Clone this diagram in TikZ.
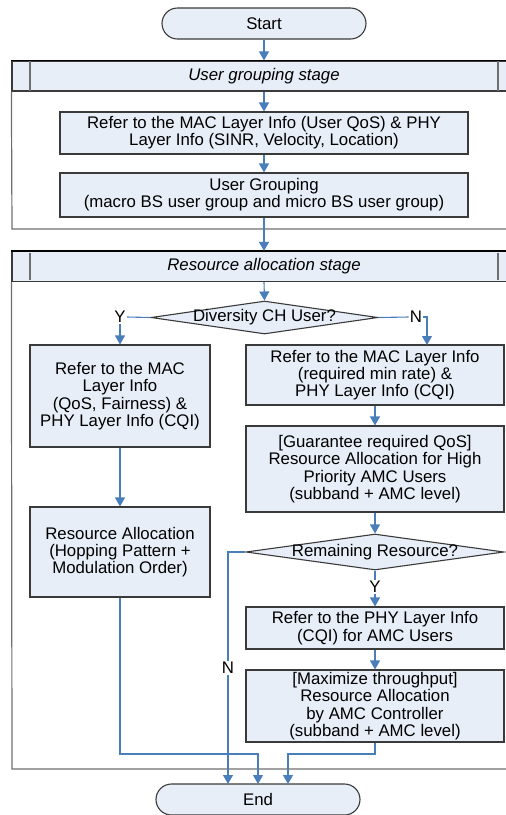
\documentclass[tikz,border=0pt]{standalone}
\usepackage{fontspec}
\setmainfont{Liberation Sans}
\usetikzlibrary{arrows.meta,shapes.geometric,calc}
\definecolor{boxfill}{HTML}{E8EEF7}
\definecolor{boxline}{HTML}{3A3A3A}
\definecolor{flow}{HTML}{4A7EBB}
\definecolor{sepgray}{HTML}{6E6E6E}
\tikzset{
  txt/.style={font=\fontsize{16.8}{17.3}\selectfont},
  procbox/.style={txt, draw=boxline, fill=boxfill, line width=1.1pt, align=center, inner sep=0pt},
  terminal/.style={procbox, rounded corners=15.5pt, minimum width=204pt, minimum height=31pt},
  decision/.style={diamond, draw=boxline, fill=boxfill, line width=1.1pt, inner sep=0pt},
  lanehead/.style={txt, draw=boxline, fill=boxfill, line width=1.2pt, inner sep=0pt,
     minimum width=504pt, minimum height=30pt, font=\fontsize{16.8}{17.3}\selectfont\itshape},
  laneedge/.style={draw=sepgray, line width=1.2pt},
  lanesep/.style={draw=sepgray, line width=2pt},
  conn/.style={draw=flow, line width=1.1pt},
  arr/.style={conn, -{Triangle[width=10pt,length=9pt]}},
  lbl/.style={txt, inner sep=1pt, fill=white},
}
\begin{document}
\begin{tikzpicture}[x=1pt,y=-1pt]
\useasboundingbox (0,0) rectangle (506,815);

% lanes
\node[lanehead] (lane1) at (264,76) {User grouping stage};
\draw[lanesep] (30,61) -- (30,91) (498,61) -- (498,91);
\draw[black, line width=1.5pt] (lane1.north west) -- (lane1.north east);
\draw[laneedge] (lane1.south west) -- (12,229) -- (520,229);

\node[lanehead] (lane2) at (264,266.5) {Resource allocation stage};
\draw[lanesep] (30,253) -- (30,280) (498,253) -- (498,280);
\draw[black, line width=1.5pt] (lane2.north west) -- (lane2.north east);
\draw[laneedge] (lane2.south west) -- (12,769) -- (520,769);

% nodes
\node[terminal] (start) at (264,23.5) {Start};
\node[procbox, minimum width=408pt, minimum height=42pt] (b1) at (264,133)
  {Refer to the MAC Layer Info (User QoS) \& PHY\\Layer Info (SINR, Velocity, Location)};
\node[procbox, minimum width=408pt, minimum height=44pt] (b2) at (264,195)
  {User Grouping\\(macro BS user group and micro BS user group)};
\node[decision, minimum width=227pt, minimum height=33pt,
  label={[txt]center:Diversity CH User?}] (d1) at (264.5,317.5) {};
\node[txt, inner sep=1pt] (y1) at (120,317) {Y};
\node[txt, inner sep=1pt] (n1) at (416,317) {N};
\node[procbox, minimum width=180pt, minimum height=102pt] (l1) at (120,396)
  {Refer to the MAC\\Layer Info\\(QoS, Fairness) \&\\PHY Layer Info (CQI)};
\node[procbox, minimum width=180pt, minimum height=90pt] (l2) at (120,552)
  {Resource Allocation\\(Hopping Pattern +\\Modulation Order)};
\node[procbox, minimum width=258pt, minimum height=60pt] (r1) at (375,375)
  {Refer to the MAC Layer Info\\(required min rate) \&\\PHY Layer Info (CQI)};
\node[procbox, minimum width=258pt, minimum height=86pt] (r2) at (375,469)
  {[Guarantee required QoS]\\Resource Allocation for High\\Priority AMC Users\\(subband + AMC level)};
\node[decision, minimum width=258pt, minimum height=36pt,
  label={[txt]center:Remaining Resource?}] (d2) at (375,552) {};
\node[txt, inner sep=1pt] (y2) at (375,587) {Y};
\node[procbox, minimum width=258pt, minimum height=42pt] (r3) at (375,628)
  {Refer to the PHY Layer Info\\(CQI) for AMC Users};
\node[procbox, minimum width=258pt, minimum height=72pt] (r4) at (375,706)
  {[Maximize throughput]\\Resource Allocation\\by AMC Controller\\(subband + AMC level)};
\node[terminal] (end) at (258,799.5) {End};

\coordinate (r1in) at (427,345);
\coordinate (e1) at (228,784);
\coordinate (e2) at (258,784);
\coordinate (e3) at (288,784);

% connectors
\draw[arr] (start.south) -- (lane1.north);
\draw[arr] (lane1.south) -- (b1.north);
\draw[arr] (b1.south) -- (b2.north);
\draw[arr] (b2.south) -- (lane2.north);
\draw[arr] (lane2.south) -- (d1.north);
\draw[conn] (d1.west) -- (y1.east);
\draw[arr] (y1.south) -- (l1.north);
\draw[conn] (d1.east) -- (n1.west);
\draw[arr] (n1.east) -| (r1in);
\draw[arr] (l1.south) -- (l2.north);
\draw[arr] (r1.south) -- (r2.north);
\draw[arr] (r2.south) -- (d2.north);
\draw[conn] (d2.south) -- (y2.north);
\draw[arr] (y2.south) -- (r3.north);
\draw[arr] (r3.south) -- (r4.north);
\draw[arr] (d2.west) -| (e1) node[lbl, pos=0.75] {N};
\draw[arr] (l2.south) |- (258,754) -- (e2);
\draw[arr] (r4.south) |- (288,754) -- (e3);
\end{tikzpicture}
\end{document}
